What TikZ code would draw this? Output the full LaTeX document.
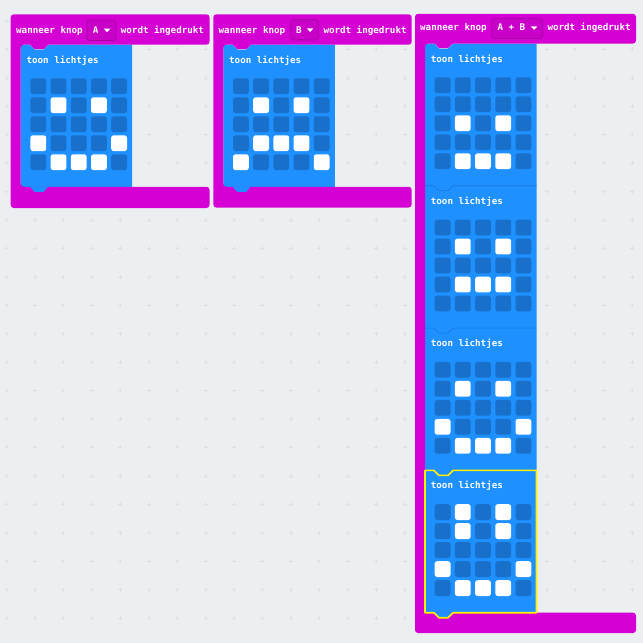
\documentclass[tikz,border=0pt]{standalone}
\usepackage{fontspec}
\newfontfamily\blockfont{DejaVu Sans Mono}
\definecolor{bg}{RGB}{236,239,241}
\definecolor{gridc}{RGB}{220,224,227}
\definecolor{mag}{RGB}{212,0,212}
\definecolor{magd}{RGB}{200,0,200}
\definecolor{magdd}{RGB}{165,0,165}
\definecolor{blk}{RGB}{30,144,255}
\definecolor{blkline}{RGB}{22,120,220}
\definecolor{ledoff}{RGB}{24,112,202}
\definecolor{hl}{RGB}{255,242,0}
\tikzset{
  txt/.style={inner sep=0pt, anchor=base west, text=white, font=\blockfont\bfseries\fontsize{9.2}{10}\selectfont},
  hatfill/.style={fill=mag, rounded corners=3pt},
  ddbox/.style={fill=magd, draw=magdd, line width=0.7pt, rounded corners=3pt},
  stmtfill/.style={fill=blk},
  sepline/.style={draw=blkline, line width=0.7pt},
  hlline/.style={draw=hl, line width=1.6pt, line join=round},
  ledon/.style={fill=white, rounded corners=2.5pt},
  ledoffst/.style={fill=ledoff, rounded corners=2.5pt},
  gridmark/.style={draw=gridc, line width=0.5pt}
}
% hat block: x0, y0, x1, yh, yb, y2
\newcommand\hatblock[6]{%
  \fill[hatfill] (#1,#2) -- (#3,#2) -- (#3,#4) -- ({#1+10},#4) -- ({#1+10},#5) -- (#3,#5) -- (#3,#6) -- (#1,#6) -- cycle;
  \fill[mag] ({#1+19},{#4-0.5}) -- ({#1+24},{#4+4.5}) -- ({#1+33},{#4+4.5}) -- ({#1+38},{#4-0.5}) -- cycle;}
% statement block outline path: x, y
\newcommand\stmtpath[2]{(#1,#2) -- ({#1+9},#2) -- ({#1+14},{#2+5}) -- ({#1+23},{#2+5}) -- ({#1+28},#2) -- ({#1+111.5},#2) -- ({#1+111.5},{#2+142.3}) -- ({#1+28},{#2+142.3}) -- ({#1+23},{#2+147.3}) -- ({#1+14},{#2+147.3}) -- ({#1+9},{#2+142.3}) -- (#1,{#2+142.3}) -- cycle}
\newcommand\topnotch[2]{(#1,#2) -- ({#1+9},#2) -- ({#1+14},{#2+5}) -- ({#1+23},{#2+5}) -- ({#1+28},#2) -- ({#1+111.5},#2)}
% statement block with LEDs: name, x, y, rows
\newcommand\showleds[4]{%
  \fill[stmtfill] \stmtpath{#2}{#3};
  \node[txt] (#1) at ({#2+5.7},{#3+18.5}) {toon lichtjes};
  \foreach \row [count=\r from 0] in {#4} {
    \foreach \v [count=\c from 0] in \row {
      \ifnum\v=1
        \fill[ledon] ({#2+9.7+20.2*\c},{#3+33.8+19*\r}) rectangle ++(15.8,15.8);
      \else
        \fill[ledoffst] ({#2+9.7+20.2*\c},{#3+33.8+19*\r}) rectangle ++(15.8,15.8);
      \fi
    }
  }}
\newcommand\ddtri[2]{\fill[white] (#1,#2) -- ({#1+6.6},#2) -- ({#1+3.3},{#2+3.6}) -- cycle;}
\begin{document}
\begin{tikzpicture}[x=1pt,y=-1pt]
\useasboundingbox (0,0) rectangle (643,643);
\fill[bg] (0,0) rectangle (643,643);
% background grid
\foreach \i in {0,...,22} {
  \foreach \j in {0,...,22} {
    \draw[gridmark] ({6.6+28.43*\i-2},{21+28.43*\j}) -- ++(4,0)
                    ({6.6+28.43*\i},{21+28.43*\j-2}) -- ++(0,4);
  }
}
% ---------- block A ----------
\showleds{tA}{20.7}{44.5}{{0,0,0,0,0},{0,1,0,1,0},{0,0,0,0,0},{1,0,0,0,1},{0,1,1,1,0}}
\hatblock{10.7}{14.3}{209.5}{44.7}{186.8}{208}
\fill[stmtfill] (48.2,186.5) -- (29.7,186.5) -- (34.7,191.8) -- (43.7,191.8) -- cycle;
\fill[ddbox] (87,20) rectangle (116,40.5);
\node[txt] (hA1) at (16,33.3) {wanneer knop};
\node[txt] (ddA) at (92.6,33.3) {A};
\ddtri{103.8}{28.6}
\node[txt] (hA2) at (120.7,33.3) {wordt ingedrukt};
% ---------- block B ----------
\showleds{tB}{223.3}{44.5}{{0,0,0,0,0},{0,1,0,1,0},{0,0,0,0,0},{0,1,1,1,0},{1,0,0,0,1}}
\hatblock{213.3}{14.3}{411.7}{44.7}{186.8}{207.5}
\fill[stmtfill] (250.8,186.5) -- (232.3,186.5) -- (237.3,191.8) -- (246.3,191.8) -- cycle;
\fill[ddbox] (290.7,19.5) rectangle (318.3,40);
\node[txt] (hB1) at (218.5,33) {wanneer knop};
\node[txt] (ddB) at (295.8,33) {B};
\ddtri{306.8}{28.4}
\node[txt] (hB2) at (323.3,33) {wordt ingedrukt};
% ---------- block A+B ----------
\showleds{tC1}{425}{43.5}{{0,0,0,0,0},{0,0,0,0,0},{0,1,0,1,0},{0,0,0,0,0},{0,1,1,1,0}}
\showleds{tC2}{425}{185.8}{{0,0,0,0,0},{0,1,0,1,0},{0,0,0,0,0},{0,1,1,1,0},{0,0,0,0,0}}
\draw[sepline] \topnotch{425}{185.8};
\showleds{tC3}{425}{328.1}{{0,0,0,0,0},{0,1,0,1,0},{0,0,0,0,0},{1,0,0,0,1},{0,1,1,1,0}}
\draw[sepline] \topnotch{425}{328.1};
\showleds{tC4}{425}{470.4}{{0,1,0,1,0},{0,1,0,1,0},{0,0,0,0,0},{1,0,0,0,1},{0,1,1,1,0}}
\hatblock{415}{13.8}{636}{43.5}{612.7}{633}
\fill[stmtfill] (453,612.4) -- (434,612.4) -- (439,617.7) -- (448,617.7) -- cycle;
\draw[hlline] \stmtpath{425}{470.4};
\fill[ddbox] (491.7,18.3) rectangle (542.7,38.5);
\node[txt] (hC1) at (420,30.8) {wanneer knop};
\node[txt] (ddC) at (497.3,30.8) {A + B};
\ddtri{530.8}{26.3}
\node[txt] (hC2) at (547.3,30.8) {wordt ingedrukt};
\end{tikzpicture}
\end{document}
